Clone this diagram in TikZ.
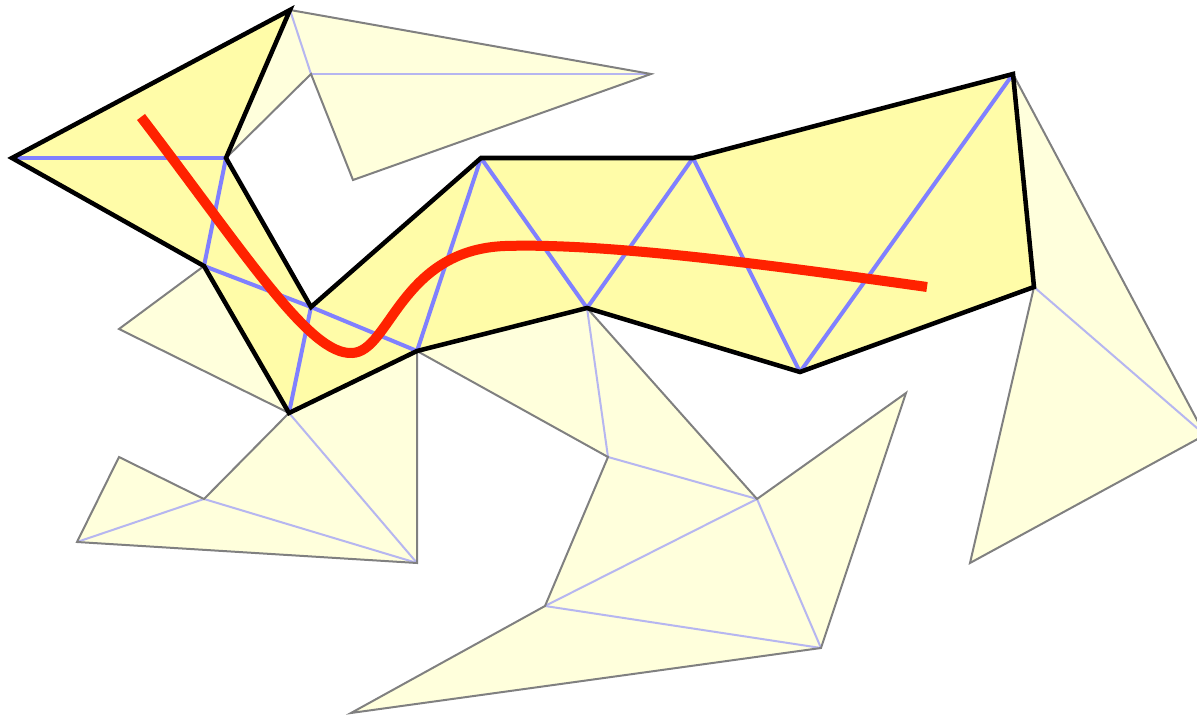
\documentclass[tikz,border=0pt]{standalone}
\usepackage{tikz}
\usepackage{xcolor}
\definecolor{sleeve}{RGB}{255,252,168}
\definecolor{pale}{RGB}{255,255,220}
\definecolor{diag}{RGB}{128,128,255}
\definecolor{palediag}{RGB}{182,182,240}
\definecolor{rim}{RGB}{128,128,128}
\definecolor{route}{RGB}{255,34,0}
\tikzset{pale tri/.style={fill=pale}}
\tikzset{rim edge/.style={draw=rim, line width=1.5pt}}
\tikzset{pale edge/.style={draw=palediag, line width=1.5pt}}
\tikzset{sleeve edge/.style={draw=diag, line width=3pt}}
\tikzset{wall/.style={draw=black, line width=3.4pt, line join=miter}}
\tikzset{route line/.style={draw=route, line width=7.5pt, line cap=butt}}

\begin{document}
\begin{tikzpicture}[x=0.75pt, y=-0.75pt]
\useasboundingbox (0,0) rectangle (1197,716);
% vertices of the sleeve
\coordinate (A) at (290,10);
\coordinate (B) at (12,158);
\coordinate (C) at (226,158);
\coordinate (D) at (204,266);
\coordinate (E) at (311,307);
\coordinate (F) at (289,413);
\coordinate (G) at (417,351);
\coordinate (H) at (481,158);
\coordinate (I) at (587,308);
\coordinate (J) at (693,158);
\coordinate (K) at (800,372);
\coordinate (L) at (1013,74);
\coordinate (M) at (1034,287);
% other vertices
\coordinate (P1) at (311,74);
\coordinate (P2) at (651,74);
\coordinate (P3) at (353,180);
\coordinate (Q1) at (119,329);
\coordinate (R1) at (204,499);
\coordinate (R2) at (119,457);
\coordinate (R3) at (77,542);
\coordinate (R4) at (417,563);
\coordinate (S1) at (608,457);
\coordinate (S2) at (757,499);
\coordinate (S3) at (906,393);
\coordinate (S4) at (821,648);
\coordinate (S5) at (545,606);
\coordinate (S6) at (351,713);
\coordinate (T1) at (1205,435);
\coordinate (T2) at (970,563);
% outer triangles
\foreach \a/\b/\c in {A/C/P1, A/P1/P2, P1/P2/P3, D/Q1/F, F/G/R4, F/R1/R4, R1/R3/R4, R1/R2/R3,
  G/I/S1, I/S1/S2, S1/S2/S5, S2/S5/S4, S2/S3/S4, S5/S4/S6, L/M/T1, M/T1/T2}
  \fill[pale tri] (\a) -- (\b) -- (\c) -- cycle;
\foreach \a/\b in {A/P1, P1/P2, F/R4, R1/R4, R1/R3, I/S1, S1/S2, S2/S5, S5/S4, S2/S4, M/T1}
  \draw[pale edge] (\a) -- (\b);
\draw[rim edge] (C) -- (P1) -- (P3) -- (P2) -- (A);
\draw[rim edge] (D) -- (Q1) -- (F);
\draw[rim edge] (F) -- (R1) -- (R2) -- (R3) -- (R4) -- (G);
\draw[rim edge] (G) -- (S1) -- (S5) -- (S6) -- (S4) -- (S3) -- (S2) -- (I);
\draw[rim edge] (L) -- (T1) -- (T2) -- (M);
% the sleeve
\fill[sleeve] (A) -- (C) -- (E) -- (H) -- (J) -- (L) -- (M) -- (K) -- (I) -- (G) -- (F) -- (D) -- (B) -- cycle;
\foreach \a/\b in {B/C, C/D, D/E, E/F, E/G, G/H, H/I, I/J, J/K, K/L}
  \draw[sleeve edge] (\a) -- (\b);
\draw[wall] (A) -- (C) -- (E) -- (H) -- (J) -- (L) -- (M) -- (K) -- (I) -- (G) -- (F) -- (D) -- (B) -- cycle;
% path through the sleeve
\draw[route line] (141,117) .. controls (250,260) and (310,355) .. (352,353)
  .. controls (390,352) and (400,250) .. (505,246)
  .. controls (600,243) and (750,262) .. (927,287);
\end{tikzpicture}
\end{document}
